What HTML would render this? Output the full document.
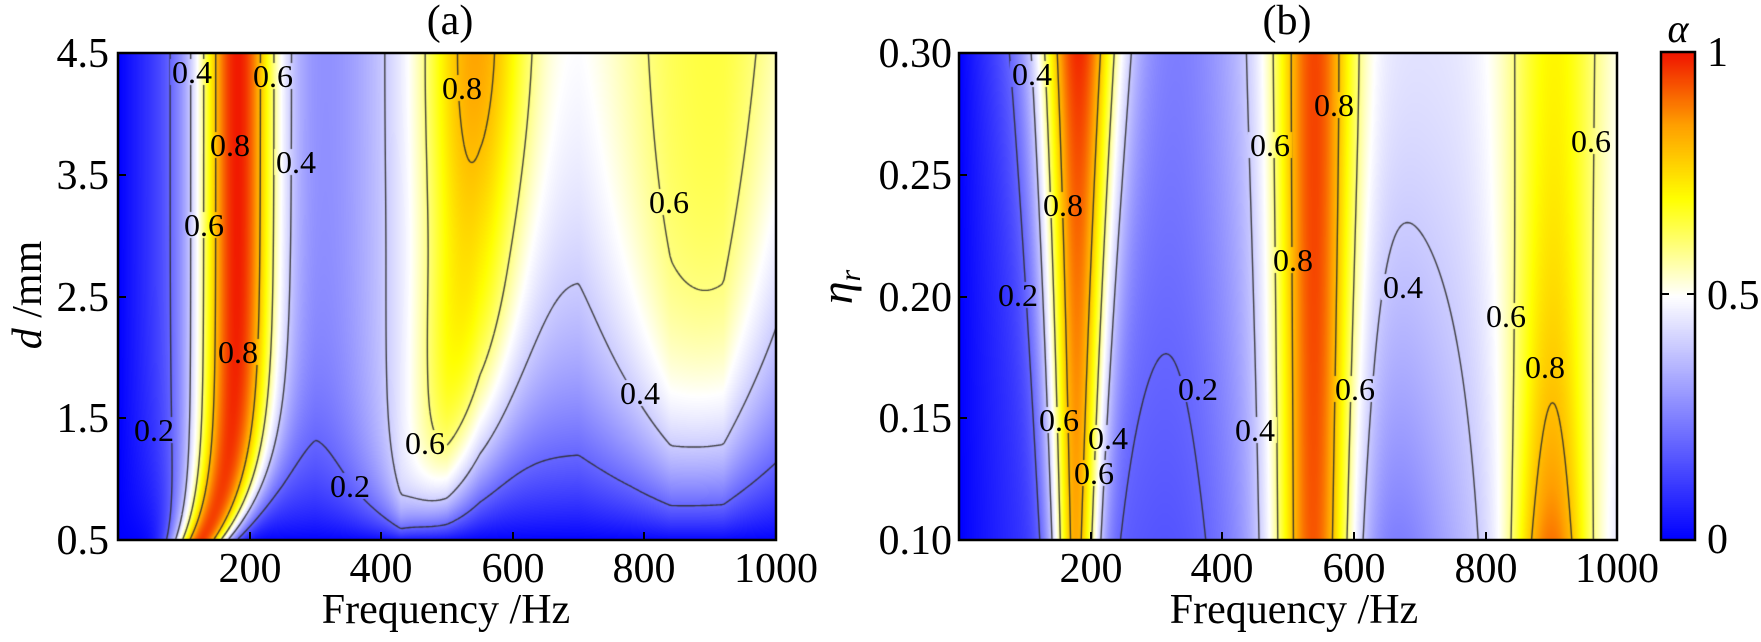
<!DOCTYPE html>
<html><head><meta charset="utf-8"><style>
html,body{margin:0;padding:0;background:#fff;width:1761px;height:642px;overflow:hidden}
#c{position:absolute;left:0;top:0}
svg{position:absolute;left:0;top:0}
text{font-family:"Liberation Serif",serif;fill:#000}
</style></head><body>
<canvas id="c" width="1761" height="642"></canvas>
<svg width="1761" height="642" viewBox="0 0 1761 642">
<g font-size="42">
<text x="450" y="34" text-anchor="middle">(a)</text>
<text x="1287" y="34" text-anchor="middle">(b)</text>
<text x="446" y="623" text-anchor="middle">Frequency /Hz</text>
<text x="1294" y="623" text-anchor="middle">Frequency /Hz</text>
<text transform="translate(41,295) rotate(-90)" text-anchor="middle"><tspan font-style="italic">d</tspan> /mm</text>
<text transform="translate(852,287) rotate(-90)" text-anchor="middle" font-size="46"><tspan font-style="italic">η</tspan><tspan font-style="italic" font-size="30" dy="8">r</tspan></text>
<g text-anchor="end">
<text x="109" y="67">4.5</text><text x="109" y="189">3.5</text><text x="109" y="311">2.5</text><text x="109" y="432">1.5</text><text x="109" y="554">0.5</text>
<text x="952" y="67">0.30</text><text x="952" y="189">0.25</text><text x="952" y="311">0.20</text><text x="952" y="432">0.15</text><text x="952" y="554">0.10</text>
</g>
<g text-anchor="middle">
<text x="250" y="582">200</text><text x="381" y="582">400</text><text x="513" y="582">600</text><text x="644" y="582">800</text><text x="776" y="582">1000</text>
<text x="1091" y="582">200</text><text x="1222" y="582">400</text><text x="1354" y="582">600</text><text x="1486" y="582">800</text><text x="1617" y="582">1000</text>
</g>
<text x="1707" y="66">1</text><text x="1707" y="309">0.5</text><text x="1707" y="553">0</text>
<text x="1678" y="42" text-anchor="middle" font-style="italic" font-size="40">α</text>
</g>
<g font-size="32" text-anchor="middle" id="labs">
<text x="192" y="83">0.4</text><text x="273" y="87">0.6</text><text x="230" y="156">0.8</text><text x="296" y="173">0.4</text>
<text x="204" y="236">0.6</text><text x="238" y="363">0.8</text><text x="154" y="441">0.2</text><text x="462" y="99">0.8</text>
<text x="669" y="213">0.6</text><text x="640" y="404">0.4</text><text x="425" y="454">0.6</text><text x="350" y="497">0.2</text>
<text x="1032" y="85">0.4</text><text x="1063" y="216">0.8</text><text x="1018" y="306">0.2</text><text x="1059" y="431">0.6</text>
<text x="1108" y="449">0.4</text><text x="1094" y="484">0.6</text><text x="1198" y="400">0.2</text><text x="1255" y="441">0.4</text>
<text x="1270" y="156">0.6</text><text x="1334" y="116">0.8</text><text x="1293" y="271">0.8</text><text x="1355" y="400">0.6</text>
<text x="1403" y="298">0.4</text><text x="1506" y="327">0.6</text><text x="1545" y="378">0.8</text><text x="1591" y="152">0.6</text>
</g>
<g fill="none" stroke="#000" stroke-width="2.5">
<rect x="118" y="53" width="658" height="487"/>
<rect x="959" y="53" width="658" height="487"/>
<rect x="1661" y="52" width="34" height="488"/>
<path d="M250 540v-8M381 540v-8M513 540v-8M644 540v-8M118 175h8M118 297h8M118 418h8
M1091 540v-8M1222 540v-8M1354 540v-8M1486 540v-8M959 175h8M959 297h8M959 418h8
M1661 294h8M1695 294h-8" stroke-width="2"/>
</g>
</svg>
<script>
const W=1761,H=642;
function sq(x){return x*x;}
function cmap(v){v=Math.max(0,Math.min(1,v));let a,b,t;
 const st=[[0,0,0,255],[0.5,255,255,255],[0.7,255,255,0],[0.85,255,160,0],[1,240,20,0]];
 a=st[3];b=st[4];t=1;
 for(let i=0;i<st.length-1;i++){if(v<=st[i+1][0]){a=st[i];b=st[i+1];t=(v-a[0])/(b[0]-a[0]);break;}}
 return [a[1]+(b[1]-a[1])*t,a[2]+(b[2]-a[2])*t,a[3]+(b[3]-a[3])*t];}
const E=Math.exp;
function ss(a,b,x){let t=Math.max(0,Math.min(1,(x-a)/(b-a)));return t*t*(3-2*t);}
const Lp=[[0,0.5],[250,0.6],[300,0.68],[370,0.4],[430,0.2],[500,0.5],[550,0.9],[700,1.45],[780,1.1],[840,0.8],[920,0.85],[1000,1.65]];
function Lf(f){for(let i=0;i<Lp.length-1;i++){if(f<=Lp[i+1][0]){const t=(f-Lp[i][0])/(Lp[i+1][0]-Lp[i][0]);return Lp[i][1]+(Lp[i+1][1]-Lp[i][1])*t;}}return 1.65;}
function fa(f,d){const u=d-0.5;const e=E(-u/0.5);
 const c1=180-53*e,s1=44-14*e,A1=0.73+0.22*e;
 const P1=A1*E(-sq(f-c1)/(2*s1*s1));
 const B=0.45*(1-E(-f/200))-0.08*E(-sq((f-320)/80));
 const c2=545-50*E(-u/1.2),s2=62*(0.6+0.4*(1-E(-u)));
 const A2=0.42*(0.86+0.14*ss(2.2,4,u));
 const P2=A2*E(-sq(f-c2)/(2*s2*s2));
 const P3=0.21*E(-sq(f-900)/(2*140*140));
 const g=1-E(-(u+0.02)/Lf(f));
 return Math.min(1,Math.max(0,P1+(B+P2+P3)*g));}
function fb(f,eta){const t=(eta-0.1)/0.2;
 const L0=180+200*(1-t);
 let B=0.45*(1-E(-f/L0));
 B-=(0.095+0.04*t*t*t)*E(-sq((f-340)/95));
 B-=0.14*Math.pow(Math.max(0,1-t),1.55)*E(-sq((f-650)/100));
 const c1=177+3*t,s1=26+18*t,A1=0.67+0.03*t;
 const P1=A1*E(-sq(f-c1)/(2*s1*s1));
 const A2=0.63-0.11*t;const P2=A2*E(-sq(f-540)/(2*45*45));
 const c3=900+5*t,s3=46+12*t,A3=0.23+0.26*E(-t/0.5);
 const P3=A3*E(-sq(f-c3)/(2*s3*s3));
 return Math.min(1,Math.max(0,B+P1+P2+P3));}
const panels=[{L:118,R:776,T:53,B:540,fn:fa,y0:0.5,y1:4.5},{L:959,R:1617,T:53,B:540,fn:fb,y0:0.1,y1:0.3}];
const cv=document.getElementById('c');const ctx=cv.getContext('2d');
const fc=document.createElement('canvas');fc.width=W;fc.height=H;const fx=fc.getContext('2d');
const img=fx.createImageData(W,H);const D=img.data;
for(let i=0;i<D.length;i+=4){D[i]=255;D[i+1]=255;D[i+2]=255;D[i+3]=255;}
for(const p of panels){
 for(let py=p.T;py<p.B;py++){const y=p.y0+(p.B-py-0.5)/(p.B-p.T)*(p.y1-p.y0);
  for(let px=p.L;px<p.R;px++){const f=(px+0.5-p.L)/(p.R-p.L)*1000;const c=cmap(p.fn(f,y));const k=(py*W+px)*4;D[k]=c[0];D[k+1]=c[1];D[k+2]=c[2];}}}
for(let py=52;py<540;py++){const v=(540-py)/488;const c=cmap(v);for(let px=1661;px<1695;px++){const k=(py*W+px)*4;D[k]=c[0];D[k+1]=c[1];D[k+2]=c[2];}}
fx.putImageData(img,0,0);
ctx.drawImage(fc,0,0);
ctx.strokeStyle='rgba(45,45,45,0.9)';ctx.lineWidth=1.4;
const levels=[0.2,0.4,0.6,0.8];
for(const p of panels){const s=2;const nx=Math.floor((p.R-p.L)/s)+1,ny=Math.floor((p.B-p.T)/s)+1;
 const V=[];for(let j=0;j<ny;j++){const py=p.T+j*s;const y=p.y0+(p.B-py)/(p.B-p.T)*(p.y1-p.y0);const row=[];
  for(let i=0;i<nx;i++){const px=p.L+i*s;const f=(px-p.L)/(p.R-p.L)*1000;row.push(p.fn(f,y));}V.push(row);}
 ctx.save();ctx.beginPath();ctx.rect(p.L,p.T,p.R-p.L,p.B-p.T);ctx.clip();
 ctx.beginPath();
 for(const lv of levels){for(let j=0;j<ny-1;j++)for(let i=0;i<nx-1;i++){
  const a=V[j][i],b=V[j][i+1],c=V[j+1][i+1],d=V[j+1][i];const x0=p.L+i*s,y0=p.T+j*s;const pts=[];
  if((a-lv)*(b-lv)<0)pts.push([x0+s*(lv-a)/(b-a),y0]);
  if((b-lv)*(c-lv)<0)pts.push([x0+s,y0+s*(lv-b)/(c-b)]);
  if((d-lv)*(c-lv)<0)pts.push([x0+s*(lv-d)/(c-d),y0+s]);
  if((a-lv)*(d-lv)<0)pts.push([x0,y0+s*(lv-a)/(d-a)]);
  if(pts.length>=2){ctx.moveTo(pts[0][0],pts[0][1]);ctx.lineTo(pts[1][0],pts[1][1]);}
  if(pts.length===4){ctx.moveTo(pts[2][0],pts[2][1]);ctx.lineTo(pts[3][0],pts[3][1]);}}}
 ctx.stroke();ctx.restore();}
document.querySelectorAll('#labs text').forEach(t=>{const x=+t.getAttribute('x'),y=+t.getAttribute('y')-11;
 ctx.drawImage(fc,x-22,y-13,44,26,x-22,y-13,44,26);});
</script>
</body></html>
